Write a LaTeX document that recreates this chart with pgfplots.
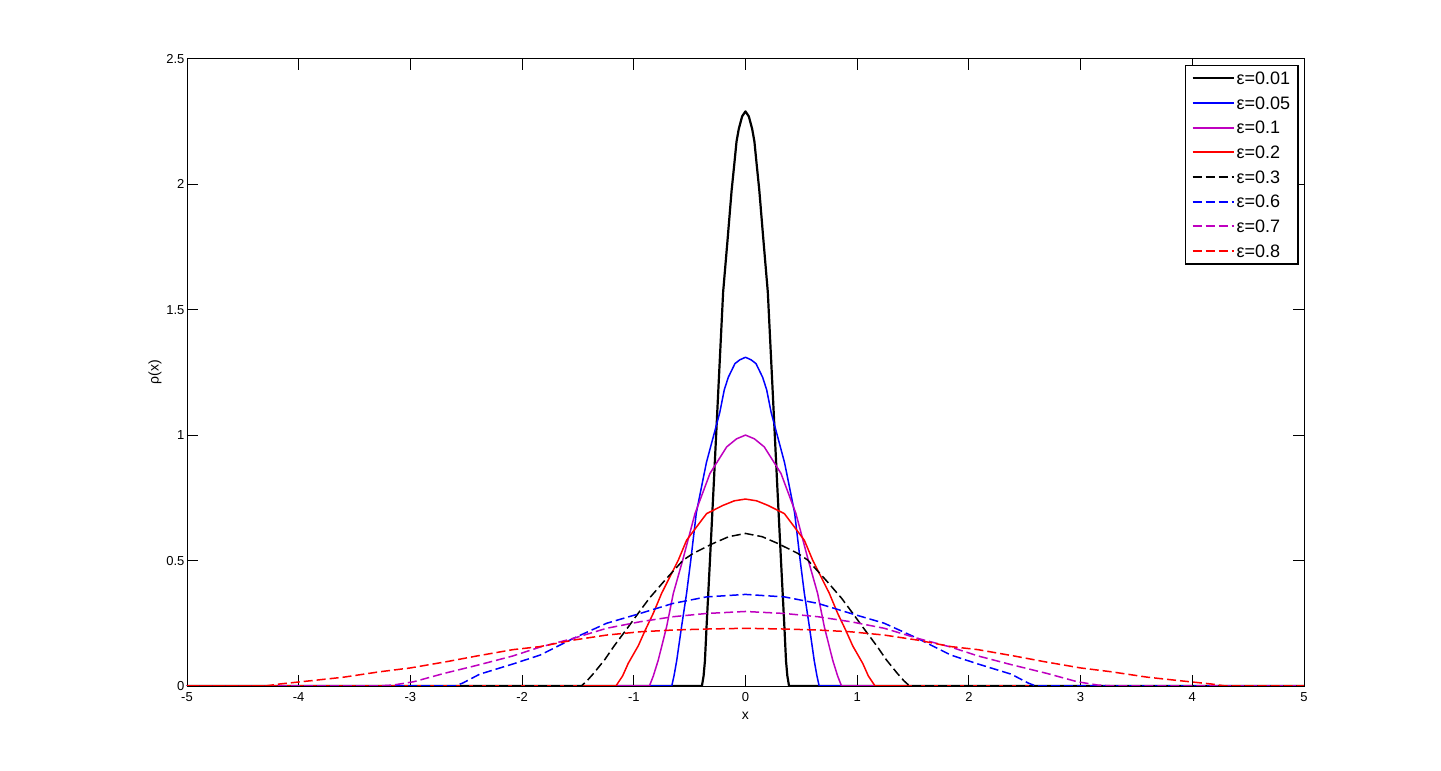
\documentclass[border=0pt]{standalone}
\usepackage{pgfplots}
\pgfplotsset{compat=1.18}
\usepackage{fontspec}
\setmainfont{Liberation Sans}
\definecolor{mmag}{rgb}{0.75,0,0.75}
\begin{document}
\begin{tikzpicture}
\path[use as bounding box] (-187pt,-85pt) rectangle (1254pt,686pt);
\begin{axis}[
  at={(0pt,0pt)}, anchor=south west,
  scale only axis, width=1117pt, height=627.3pt,
  xmin=-5, xmax=5, ymin=0, ymax=2.5,
  xtick={-5,-4,-3,-2,-1,0,1,2,3,4,5},
  xticklabels={-5,-4,-3,-2,-1,0,1,2,3,4,5},
  ytick={0,0.5,1,1.5,2,2.5},
  yticklabels={0,0.5,1,1.5,2,2.5},
  tick align=inside, major tick length=11pt,
  axis line style={line width=0.9pt},
  every tick/.style={black, line width=0.9pt},
  tick label style={font=\fontsize{13}{15}\selectfont},
  yticklabel style={xshift=1pt},
  xticklabel style={yshift=-3pt},
  label style={font=\fontsize{14}{16}\selectfont},
  xlabel={x},
  xlabel style={at={(axis description cs:0.5,0)}, anchor=north, yshift=-23pt},
  ylabel={ρ(x)},
  ylabel style={yshift=-2pt},
  legend style={at={(1,1)}, anchor=north east, xshift=-5pt, yshift=-6pt,
    draw=black, line width=1.6pt, inner xsep=6pt, inner ysep=5pt,
    font=\fontsize{18}{20}\selectfont, row sep=9.2pt,
    nodes={inner xsep=2pt, inner ysep=1pt, text height=13pt, text depth=0.5pt}},
  legend cell align=left,
  legend image code/.code={\draw[#1, line width=2pt] (0pt,0pt) -- (41pt,0pt);},
  every axis plot/.append style={line width=1.5pt, line join=round},
]
% eps = 0.01
\addplot[black, line width=2.2pt] coordinates {
(-5,0)(-0.39,0)(-0.375,0.04)(-0.363,0.10)(-0.348,0.24)(-0.318,0.50)(-0.28,0.84)(-0.243,1.18)(-0.20,1.57)(-0.16,1.78)(-0.124,1.975)(-0.10,2.08)(-0.08,2.17)(-0.06,2.22)(-0.03,2.27)(0,2.29)
(0.03,2.27)(0.06,2.22)(0.08,2.17)(0.10,2.08)(0.124,1.975)(0.16,1.78)(0.20,1.57)(0.243,1.18)(0.28,0.84)(0.318,0.50)(0.348,0.24)(0.363,0.10)(0.375,0.04)(0.39,0)(5,0)};
\addlegendentry{ε=0.01}
% eps = 0.05
\addplot[blue] coordinates {
(-5,0)(-0.66,0)(-0.64,0.04)(-0.616,0.10)(-0.571,0.24)(-0.527,0.37)(-0.49,0.50)(-0.44,0.69)(-0.35,0.89)(-0.23,1.09)(-0.19,1.18)(-0.154,1.23)(-0.094,1.285)(-0.05,1.30)(0,1.31)
(0.05,1.30)(0.094,1.285)(0.154,1.23)(0.19,1.18)(0.23,1.09)(0.35,0.89)(0.44,0.69)(0.49,0.50)(0.527,0.37)(0.571,0.24)(0.616,0.10)(0.64,0.04)(0.66,0)(5,0)};
\addlegendentry{ε=0.05}
% eps = 0.1
\addplot[mmag] coordinates {
(-5,0)(-0.86,0)(-0.825,0.04)(-0.781,0.103)(-0.706,0.236)(-0.646,0.369)(-0.563,0.50)(-0.452,0.687)(-0.318,0.847)(-0.168,0.953)(-0.08,0.985)(0,1.0)
(0.08,0.985)(0.168,0.953)(0.318,0.847)(0.452,0.687)(0.563,0.50)(0.646,0.369)(0.706,0.236)(0.781,0.103)(0.825,0.04)(0.86,0)(5,0)};
\addlegendentry{ε=0.1}
% eps = 0.2
\addplot[red] coordinates {
(-5,0)(-1.16,0)(-1.10,0.04)(-1.05,0.09)(-0.96,0.16)(-0.90,0.22)(-0.825,0.29)(-0.75,0.37)(-0.601,0.502)(-0.527,0.581)(-0.348,0.687)(-0.2,0.72)(-0.1,0.738)(0,0.745)
(0.1,0.738)(0.2,0.72)(0.348,0.687)(0.527,0.581)(0.601,0.502)(0.75,0.37)(0.825,0.29)(0.90,0.22)(0.96,0.16)(1.05,0.09)(1.10,0.04)(1.16,0)(5,0)};
\addlegendentry{ε=0.2}
% eps = 0.3
\addplot[black, dash pattern=on 9pt off 4pt] coordinates {
(-5,0)(-1.47,0)(-1.42,0.02)(-1.36,0.05)(-1.26,0.105)(-1.18,0.157)(-1.05,0.235)(-0.96,0.29)(-0.86,0.35)(-0.72,0.422)(-0.557,0.502)(-0.47,0.528)(-0.29,0.568)(-0.15,0.595)(0,0.608)
(0.15,0.595)(0.29,0.568)(0.47,0.528)(0.557,0.502)(0.72,0.422)(0.86,0.35)(0.96,0.29)(1.05,0.235)(1.18,0.157)(1.26,0.105)(1.36,0.05)(1.42,0.02)(1.47,0)(5,0)};
\addlegendentry{ε=0.3}
% eps = 0.6
\addplot[blue, dash pattern=on 9pt off 4pt] coordinates {
(-5,0)(-2.6,0)(-2.53,0.012)(-2.38,0.047)(-2.08,0.088)(-1.84,0.123)(-1.54,0.19)(-1.243,0.25)(-0.944,0.289)(-0.65,0.329)(-0.35,0.355)(0,0.365)
(0.35,0.355)(0.65,0.329)(0.944,0.289)(1.243,0.25)(1.54,0.19)(1.84,0.123)(2.08,0.088)(2.38,0.047)(2.53,0.012)(2.6,0)(5,0)};
\addlegendentry{ε=0.6}
% eps = 0.7
\addplot[mmag, dash pattern=on 9pt off 4pt] coordinates {
(-5,0)(-3.3,0)(-3.15,0.004)(-2.97,0.017)(-2.7,0.05)(-2.38,0.085)(-2.08,0.12)(-1.84,0.155)(-1.54,0.19)(-1.243,0.23)(-0.944,0.256)(-0.65,0.276)(-0.35,0.289)(0,0.297)
(0.35,0.289)(0.65,0.276)(0.944,0.256)(1.243,0.23)(1.54,0.19)(1.84,0.155)(2.08,0.12)(2.38,0.085)(2.7,0.05)(2.97,0.017)(3.15,0.004)(3.3,0)(5,0)};
\addlegendentry{ε=0.7}
% eps = 0.8
\addplot[red, dash pattern=on 9pt off 4pt] coordinates {
(-5,0)(-4.3,0)(-4.17,0.008)(-3.87,0.022)(-3.6,0.035)(-3.27,0.057)(-3.0,0.072)(-2.675,0.097)(-2.4,0.12)(-2.08,0.145)(-1.84,0.157)(-1.54,0.183)(-1.243,0.203)(-0.944,0.216)(-0.65,0.223)(-0.35,0.227)(0,0.23)
(0.35,0.227)(0.65,0.223)(0.944,0.216)(1.243,0.203)(1.54,0.183)(1.84,0.157)(2.08,0.145)(2.4,0.12)(2.675,0.097)(3.0,0.072)(3.27,0.057)(3.6,0.035)(3.87,0.022)(4.17,0.008)(4.3,0)(5,0)};
\addlegendentry{ε=0.8}
\end{axis}
\end{tikzpicture}
\end{document}
